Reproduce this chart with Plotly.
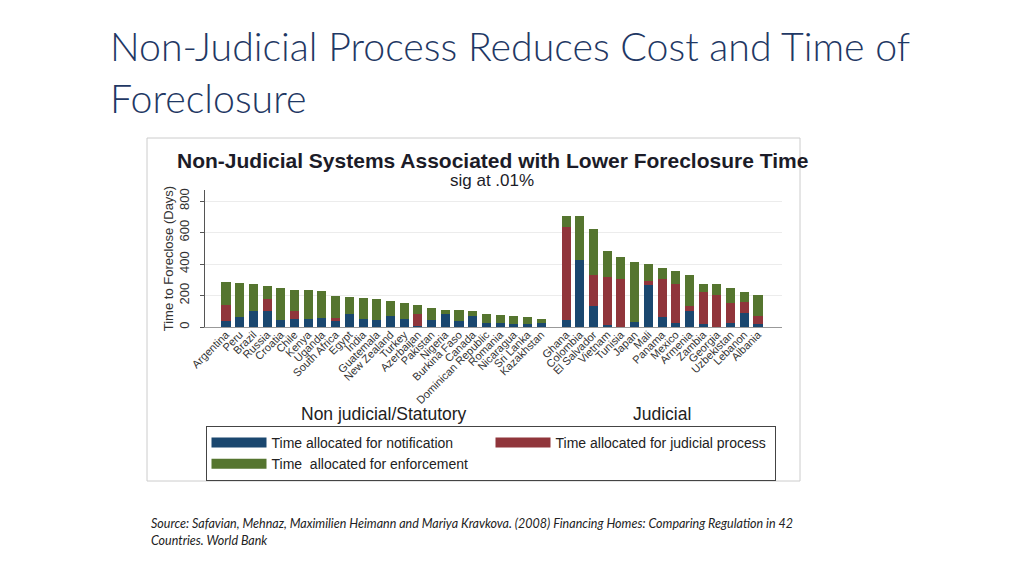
import plotly.graph_objects as go

# ---------------- data ----------------
nonjud_countries = ["Argentina", "Peru", "Brazil", "Russia", "Croatia", "Chile", "Kenya", "Uganda",
                    "South Africa", "Egypt", "India", "Guatemala", "New Zealand", "Turkey", "Azerbaijan",
                    "Pakistan", "Nigeria", "Burkina Faso", "Canada", "Dominican Republic", "Romania",
                    "Nicaragua", "Sri Lanka", "Kazakhstan"]
nonjud_notification = [38, 63, 100, 100, 42, 49, 53, 57, 38, 83, 51, 47, 70, 50, 8, 47, 83, 40, 70, 25, 25, 19, 21, 28]
nonjud_judicial = [100, 0, 0, 78, 0, 53, 0, 0, 22, 0, 0, 0, 0, 0, 77, 0, 0, 0, 0, 0, 0, 0, 0, 0]
nonjud_enforcement = [146, 214, 171, 80, 204, 135, 184, 174, 137, 106, 131, 129, 95, 100, 53, 72, 25, 68, 29, 58, 53, 51, 43, 21]

jud_countries = ["Ghana", "Colombia", "El Salvador", "Vietnam", "Tunisia", "Japan", "Mali", "Panama",
                 "Mexico", "Armenia", "Zambia", "Georgia", "Uzbekistan", "Lebanon", "Albania"]
jud_notification = [47, 428, 135, 11, 0, 30, 265, 61, 28, 102, 17, 0, 28, 87, 17]
jud_judicial = [586, 0, 193, 307, 307, 0, 27, 242, 243, 31, 207, 201, 127, 72, 53]
jud_enforcement = [74, 275, 294, 163, 135, 381, 108, 72, 85, 197, 51, 74, 95, 63, 133]

group_labels = ["Non judicial/Statutory", "Judicial"]
series_names = ["Time allocated for notification", "Time allocated for judicial process",
                "Time  allocated for enforcement"]
y_tick_values = [0, 200, 400, 600, 800]

slide_title = ["Non-Judicial Process Reduces Cost and Time of", "Foreclosure"]
chart_title = "Non-Judicial Systems Associated with Lower Foreclosure Time"
chart_subtitle = "sig at .01%"
y_title = "Time to Foreclose (Days)"
source_lines = ["Source: Safavian, Mehnaz, Maximilien Heimann and Mariya Kravkova. (2008) Financing Homes: Comparing Regulation in 42",
                "Countries. World Bank"]

# ---------------- style ----------------
colors = ["#1a476f", "#90353b", "#55752f"]
GROUP_GAP = 0.82
OFF = 8                      # page body margin
W, H = 1024 - OFF, 576 - OFF
# plot area in screen pixels
SL, SR, ST, SB = 205, 782, 190, 327
PL, PR, PT, PB = SL - OFF, SR - OFF, ST - OFF, SB - OFF
ARIAL = "Liberation Sans, Arial, sans-serif"
SLIDE_FONT = "Lato, Open Sans, sans-serif"


def px_x(p):
    return (p - SL) / (SR - SL)


def px_y(p):
    return (SB - p) / (SB - ST)


n1 = len(nonjud_countries)
x_pos = list(range(n1)) + [n1 + GROUP_GAP + j for j in range(len(jud_countries))]
countries = nonjud_countries + jud_countries
series_values = [nonjud_notification + jud_notification,
                 nonjud_judicial + jud_judicial,
                 nonjud_enforcement + jud_enforcement]

fig = go.Figure()
for name, vals, c in zip(series_names, series_values, colors):
    fig.add_trace(go.Bar(x=x_pos, y=vals, name=name, marker=dict(color=c, line=dict(width=0)),
                         legendgroup=name, showlegend=False))
for name, c in zip(series_names, colors):
    fig.add_trace(go.Scatter(x=[None], y=[None], mode="lines", name=name,
                             line=dict(color=c, width=10), legendgroup=name, showlegend=True))

x_left = x_pos[0] - (226 - SL) / 13.7
x_right = x_pos[-1] + (SR - 758) / 13.7

fig.update_layout(
    width=W, height=H,
    margin=dict(l=PL, r=W - PR, t=PT, b=H - PB, autoexpand=False),
    paper_bgcolor="white", plot_bgcolor="white",
    barmode="stack", bargap=0.34,
    font=dict(family=ARIAL, color="#222222"),
    showlegend=True,
    legend=dict(orientation="h", x=px_x(205.5), y=px_y(426), xanchor="left", yanchor="top",
                bordercolor="#444444", borderwidth=1, bgcolor="rgba(0,0,0,0)",
                itemwidth=55, entrywidth=214, entrywidthmode="pixels",
                font=dict(family=ARIAL, size=14, color="#222222"), traceorder="normal",
                tracegroupgap=0, itemclick=False, itemdoubleclick=False),
    xaxis=dict(range=[x_left, x_right], tickvals=x_pos, ticktext=countries, tickangle=-45,
               tickfont=dict(family=ARIAL, size=11, color="#333333"), showgrid=False,
               showline=True, linecolor="#999999", linewidth=1, ticks="", zeroline=False,
               ticklabelstandoff=-4, automargin=False),
    yaxis=dict(range=[0, 870], tickvals=y_tick_values, tickangle=-90,
               tickfont=dict(family=ARIAL, size=13, color="#333333"),
               showgrid=True, gridcolor="#ececec", gridwidth=1,
               showline=True, linecolor="#555555", linewidth=1, ticks="outside", ticklen=4,
               tickcolor="#555555", ticklabelstandoff=6, zeroline=False, automargin=False,
               title=dict(text=y_title, font=dict(family=ARIAL, size=13, color="#333333"), standoff=0)),
)

shapes = [dict(type="rect", xref="paper", yref="paper", x0=px_x(147), x1=px_x(800),
               y0=px_y(481), y1=px_y(138), line=dict(color="#cccccc", width=1), layer="below")]
fig.update_layout(shapes=shapes)

ann = []
for i, line in enumerate(slide_title):
    ann.append(dict(text=line, xref="paper", yref="paper", x=px_x(108), y=px_y(45 + 52 * i),
                    xanchor="left", yanchor="middle", showarrow=False,
                    font=dict(family=SLIDE_FONT, size=39.3, weight=300, color="#1f3864")))
ann.append(dict(text="<b>" + chart_title + "</b>", xref="paper", yref="paper", x=px_x(492), y=px_y(160),
                xanchor="center", yanchor="middle", showarrow=False,
                font=dict(family=ARIAL, size=21, color="#1c1c28")))
ann.append(dict(text=chart_subtitle, xref="paper", yref="paper", x=px_x(492), y=px_y(180),
                xanchor="center", yanchor="middle", showarrow=False,
                font=dict(family=ARIAL, size=17, color="#1c1c28")))
groups = [x_pos[:n1], x_pos[n1:]]
for lab, g in zip(group_labels, groups):
    ann.append(dict(text=lab, xref="x", yref="paper", x=sum(g) / len(g), y=px_y(414),
                    xanchor="center", yanchor="middle", showarrow=False,
                    font=dict(family=ARIAL, size=17.5, color="#222222")))
for i, line in enumerate(source_lines):
    ann.append(dict(text="<i>" + line + "</i>", xref="paper", yref="paper", x=px_x(149),
                    y=px_y(523 + 17 * i), xanchor="left", yanchor="middle", showarrow=False,
                    font=dict(family=SLIDE_FONT, size=12.5, color="#222222")))
fig.update_layout(annotations=ann)

fig.write_html("out.html")
